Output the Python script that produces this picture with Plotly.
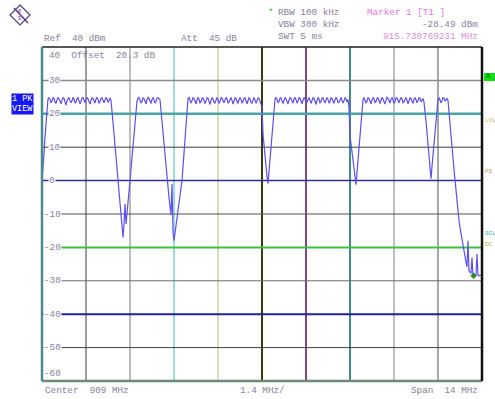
import numpy as np
import plotly.graph_objects as go

# ---- sweep settings ----
CENTER_MHZ = 909.0
SPAN_MHZ = 14.0
REF_DBM = 40.0
DB_PER_DIV = 10.0
F_START = CENTER_MHZ - SPAN_MHZ / 2
F_STOP = CENTER_MHZ + SPAN_MHZ / 2

MARKER_FREQ = 915.730769231
MARKER_LEVEL = -28.49

# ---- trace levels (dBm), one value per sweep point, grouped by region ----
rise_start = [0.0, 3.0, 8.0, 13.0, 18.0, 22.0, 24.5]
hop_1 = [24.8, 24.3, 23.3, 23.8, 24.8, 24.6, 23.5, 23.1, 24.2, 24.9,
         24.5, 23.4, 23.0, 24.1, 24.8, 24.6, 23.5, 22.6, 23.9, 24.7,
         24.9, 24.0, 23.3, 23.9, 24.9, 24.4, 23.2, 23.5, 24.6, 24.8,
         24.1, 23.0, 23.7, 24.7, 24.9, 24.0, 23.4, 24.2, 24.9, 24.5,
         23.3, 22.9, 24.0, 24.8, 24.6, 23.6, 23.2, 24.4, 24.9, 24.3,
         23.1, 23.6, 24.7, 24.8, 23.9, 23.3, 24.1, 24.9, 24.4, 23.4,
         24.0, 24.7]
gap_1 = [24.0, 21.2, 17.6, 14.1, 10.6, 7.2, 3.7, 0.3, -3.1, -6.6,
         -10.1, -13.6, -17.0, -13.0, -7.0, -13.0, -9.0, -5.5, -2.5, 0.0,
         3.5, 7.0, 10.5, 14.0, 17.5, 21.0, 23.8]
hop_2 = [24.7, 24.9, 24.1, 23.2, 23.8, 24.8, 24.5, 23.3, 23.0, 24.2,
         24.9, 24.6, 23.5, 23.1, 24.3, 24.9, 24.2, 23.2, 23.7, 24.7,
         24.8, 24.4]
gap_2 = [24.2, 21.0, 17.5, 14.0, 10.5, 7.0, 3.5, 0.0, -2.6, -5.1,
         -7.7, -10.3, -1.0, -15.4, -18.0, -15.7, -13.5, -11.2, -9.0, -6.7,
         -4.5, -2.2, 0.0, 4.1, 8.2, 12.3, 16.4, 20.5]
hop_3 = [24.6, 24.9, 24.0, 23.2, 23.9, 24.8, 24.6, 23.4, 23.0, 24.2,
         24.9, 24.4, 23.3, 23.6, 24.7, 24.8, 23.9, 23.1, 23.8, 24.8,
         24.7, 23.6, 22.8, 24.0, 24.9, 24.5, 23.4, 23.2, 24.3, 24.9,
         24.2, 23.1, 23.7, 24.8, 24.7, 23.8, 23.3, 24.1, 24.9, 24.4,
         23.2, 23.5, 24.6, 24.9, 24.0, 22.9, 23.8, 24.8, 24.6, 23.5,
         23.1, 24.2, 24.9, 24.3, 23.3, 23.6, 24.7, 24.8, 23.9, 23.0,
         23.9, 24.8, 24.5, 23.4, 23.2, 24.4, 24.9, 24.1, 23.2, 23.8,
         24.7, 24.6, 23.8, 23.0]
gap_3 = [22.0, 14.0, 10.5, 6.9, 3.6, 1.2, -0.9, 2.4, 6.0, 9.6,
         13.2, 16.8, 20.4]
hop_4 = [24.3, 24.9, 24.4, 23.3, 23.7, 24.7, 24.8, 23.8, 23.1, 24.0,
         24.9, 24.5, 23.4, 22.9, 24.1, 24.8, 24.6, 23.5, 23.2, 24.4,
         24.9, 24.2, 23.2, 23.8, 24.8, 24.7, 23.7, 23.0, 24.0, 24.9,
         24.5, 23.3, 23.5, 24.6, 24.9, 24.1, 23.1, 23.9, 24.8, 24.6,
         23.6, 22.8, 24.0, 24.9, 24.4, 23.3, 23.6, 24.7, 24.8, 23.9,
         23.2, 24.1, 24.9, 24.3, 23.2, 23.7, 24.8, 24.6, 23.5, 23.1,
         24.2, 24.9, 24.4, 23.4, 23.4, 24.5, 24.9, 24.0, 23.2, 23.9,
         24.8, 24.5, 23.6, 24.3]
gap_4 = [22.0, 13.5, 11.1, 8.6, 6.1, 3.7, 1.2, -1.2, 2.4, 6.0,
         9.6, 13.2, 16.8, 20.4]
hop_5 = [24.2, 24.9, 24.3, 23.2, 23.8, 24.8, 24.6, 23.4, 23.0, 24.1,
         24.9, 24.5, 23.3, 23.6, 24.7, 24.8, 23.8, 23.1, 24.0, 24.9,
         24.4, 23.2, 22.9, 24.1, 24.9, 24.6, 23.5, 23.2, 24.3, 24.9,
         24.2, 23.1, 23.7, 24.8, 24.7, 23.7, 23.3, 24.2, 24.9, 24.4,
         23.3, 23.5, 24.6, 24.9, 24.0, 23.0, 23.8, 24.8, 24.6, 23.5,
         23.1, 24.3, 24.9, 24.2, 23.3, 23.9, 24.8, 24.7, 23.6, 24.0,
         24.6]
gap_5 = [23.5, 21.2, 17.8, 14.4, 11.0, 7.6, 4.2, 0.6, 4.2, 7.6,
         11.0, 14.4, 17.8, 21.2]
hop_6 = [24.3, 24.9, 24.2, 23.3, 23.9, 24.8, 24.7, 23.8, 24.2, 24.6]
fall_end = [24.0, 20.0, 16.7, 13.4, 10.0, 6.7, 3.3, 0.0, -3.3, -6.7,
            -10.0, -12.0, -14.0, -16.0, -18.0, -20.0, -21.5, -23.0, -24.5, -25.8,
            -18.0, -27.0, -27.5, -27.8, -23.0, -28.5, -28.5, -28.3, -28.4, -22.0,
            -28.3, -28.5, -28.4, -28.5, -28.4]

level = np.array(rise_start + hop_1 + gap_1 + hop_2 + gap_2 + hop_3 + gap_3
                 + hop_4 + gap_4 + hop_5 + gap_5 + hop_6 + fall_end)
freq = np.linspace(F_START, F_STOP, len(level))

# ---- graticule styling ----
Y_TOP = REF_DBM
Y_BOT = REF_DBM - 10 * DB_PER_DIV
v_colors = ["#3c3c3c", "#7a7a7a", "#3fb8b8", "#b8b878", "#3a3a10",
            "#4a1050", "#0a6060", "#808080", "#a8a8a8"]
v_widths = [1, 1, 1, 1, 2, 1.5, 1.5, 1, 2]
h_levels = [30, 20, 10, 0, -10, -20, -30, -40, -50]
h_colors = ["#8a8a8a", "#4aa4a4", "#3c3c3c", "#303090", "#505050",
            "#3cc03c", "#6a6a6a", "#2020a0", "#404040"]
h_widths = [1.5, 2.5, 1, 1.5, 1, 2, 1, 2, 1]

W, H = 495, 399
X0, X1, YT, YB = 42, 482, 47, 381


def px(x):
    return x / W


def py(y):
    return 1 - y / H


FONT = "Liberation Mono"
TXT = "#8a80a0"
PINK = "#e07ae0"

fig = go.Figure()
fig.add_trace(go.Scatter(x=freq, y=level, mode="lines",
                         line=dict(color="#5c50f0", width=1.2),
                         hoverinfo="skip", showlegend=False))
fig.add_trace(go.Scatter(x=[MARKER_FREQ], y=[MARKER_LEVEL], mode="markers",
                         marker=dict(symbol="diamond", size=5, color="#2a8a2a"),
                         hoverinfo="skip", showlegend=False))

shapes = []
for k, (c, w) in enumerate(zip(v_colors, v_widths), start=1):
    f = F_START + k * SPAN_MHZ / 10
    shapes.append(dict(type="line", xref="x", yref="y", x0=f, x1=f,
                       y0=Y_BOT, y1=Y_TOP, line=dict(color=c, width=w), layer="below"))
for lv, c, w in zip(h_levels, h_colors, h_widths):
    shapes.append(dict(type="line", xref="x", yref="y", x0=F_START, x1=F_STOP,
                       y0=lv, y1=lv, line=dict(color=c, width=w), layer="below"))
# frame
shapes += [
    dict(type="line", xref="paper", yref="paper", x0=px(X0), x1=px(X1), y0=py(YT), y1=py(YT),
         line=dict(color="#202020", width=1.5)),
    dict(type="line", xref="paper", yref="paper", x0=px(X0), x1=px(X1), y0=py(YB), y1=py(YB),
         line=dict(color="#6a8a7a", width=2.5)),
    dict(type="line", xref="paper", yref="paper", x0=px(X0), x1=px(X0), y0=py(YB), y1=py(YT),
         line=dict(color="#4a8a8a", width=2.5)),
    dict(type="line", xref="paper", yref="paper", x0=px(X1), x1=px(X1), y0=py(YB), y1=py(YT),
         line=dict(color="#101010", width=2.5)),
]
# screen "A" tag on the right edge
shapes.append(dict(type="rect", xref="paper", yref="paper", x0=px(484), x1=px(495),
                   y0=py(81), y1=py(73), fillcolor="#10e010", line=dict(width=0)))
# logo
cx, cy, r = 20, 15, 10
logo = f"M {px(cx)} {py(cy - r)} L {px(cx + r)} {py(cy)} L {px(cx)} {py(cy + r)} L {px(cx - r)} {py(cy)} Z"
shapes.append(dict(type="path", xref="paper", yref="paper", path=logo,
                   line=dict(color="#40408a", width=1.2)))
shapes.append(dict(type="line", xref="paper", yref="paper", x0=px(cx - 6), x1=px(cx + 8),
                   y0=py(cy - 7), y1=py(cy + 8), line=dict(color="#60308a", width=1.5)))

ann = []


def text(x, y, s, color=TXT, anchor="left", size=9.3, yref="paper", bg=None, fc=None):
    d = dict(x=px(x), y=py(y) if yref == "paper" else y, xref="paper", yref=yref,
             text=s, showarrow=False, xanchor=anchor, yanchor="middle",
             font=dict(family=FONT, size=size, color=fc or color), borderpad=0)
    if bg:
        d["bgcolor"] = bg
    ann.append(d)


# level labels inside the grid
for lv in h_levels:
    text(43 if lv < 0 else 48, lv, f"{lv}", yref="y", bg="white")
text(43, 373, f"{Y_BOT:g}")

# header
text(43, 38, f"Ref  {REF_DBM:g} dBm")
text(180, 38, "Att  45 dB")
text(48, 55, f"{REF_DBM:g}  Offset  20.3 dB")
text(267, 13, "*", color="#30c030")
text(277, 13, "RBW 100 kHz")
text(277, 25, "VBW 300 kHz")
text(277, 37, "SWT 5 ms")
text(366, 13, "Marker 1 [T1 ]", color=PINK)
text(479, 25, f"{MARKER_LEVEL:.2f} dBm", anchor="right")
text(479, 37, f"{MARKER_FREQ:.9f} MHz", anchor="right", color="#d890d8")
text(19, 15, "R<br>S", color="#503090", anchor="center", size=5)

# footer
text(44, 390, f"Center  {CENTER_MHZ:g} MHz")
text(262, 390, f"{SPAN_MHZ / 10:g} MHz/", anchor="center")
text(479, 390, f"Span  {SPAN_MHZ:g} MHz", anchor="right")

# trace tag on the left
text(11, 99, "1 PK", fc="white", bg="#1818f0", size=8.5)
text(11, 109, "VIEW", fc="white", bg="#1818f0", size=8.5)

# enhancement labels on the right
text(485, 77, "A", fc="#106010", size=6.5)
text(484, 120, "LVL", color="#c8b060", size=6)
text(484, 171, "PS", color="#b0a060", size=6)
text(484, 233, "SGL", color="#40b0a0", size=6)
text(484, 244, "DC", color="#90c040", size=6)

fig.update_layout(
    width=W, height=H,
    margin=dict(l=0, r=0, t=0, b=0),
    paper_bgcolor="white", plot_bgcolor="white",
    xaxis=dict(range=[F_START, F_STOP], domain=[px(X0), px(X1)],
               showgrid=False, zeroline=False, showticklabels=False, showline=False),
    yaxis=dict(range=[Y_BOT, Y_TOP], domain=[py(YB), py(YT)],
               showgrid=False, zeroline=False, showticklabels=False, showline=False),
    shapes=shapes, annotations=ann,
)

fig.write_html("out.html")
